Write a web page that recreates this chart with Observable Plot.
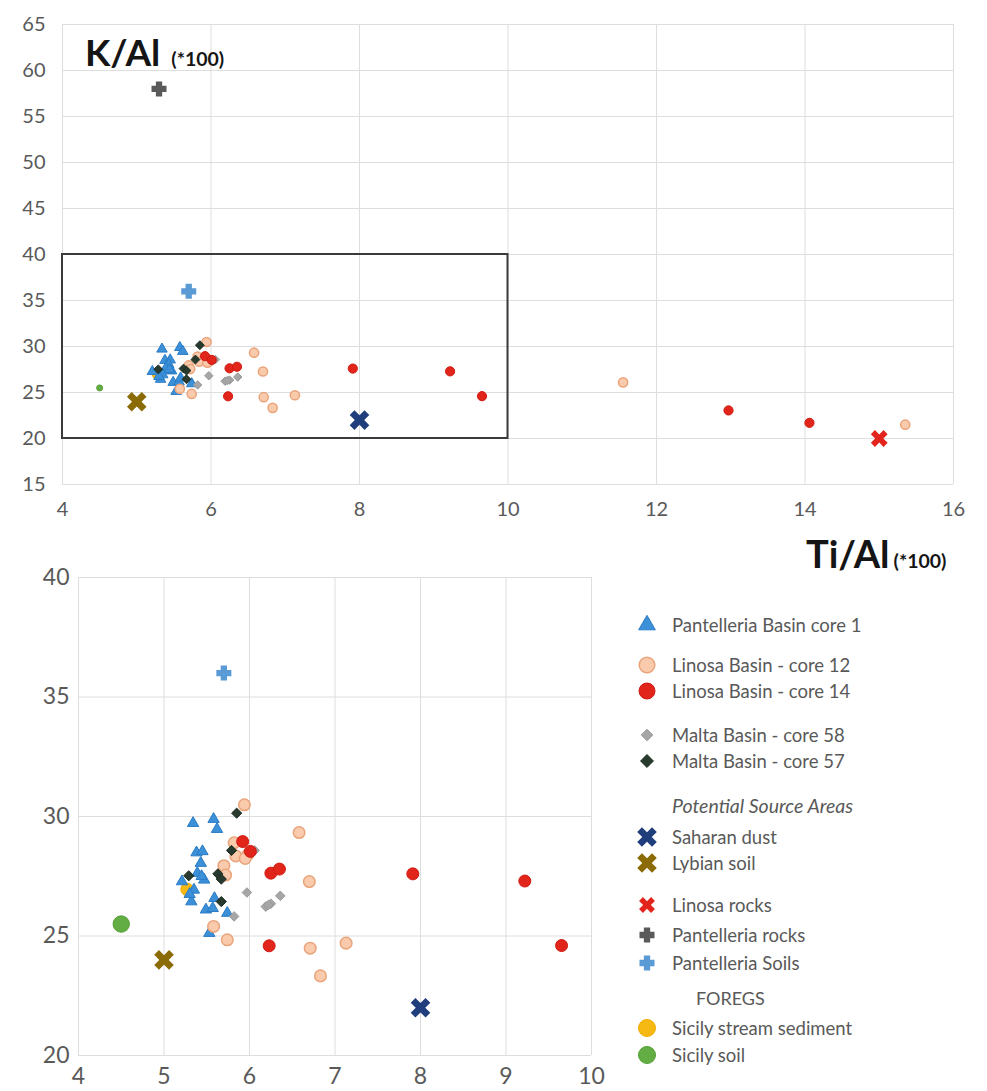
<!DOCTYPE html>
<html>
<head>
<meta charset="utf-8">
<script src="https://cdn.jsdelivr.net/npm/d3@7"></script>
<script src="https://cdn.jsdelivr.net/npm/@observablehq/plot@0.6"></script>
<style>
  body { margin: 0; background: #fff; font-family: Lato, "Open Sans", sans-serif; }
  #wrap { position: relative; width: 987px; height: 1091px; overflow: hidden; background: #fff; }
  #top, #bottom { position: absolute; left: 0; }
  #top { top: 0; }
  #bottom { top: 560px; }
  .lg { position: absolute; display: flex; align-items: center; height: 26px; white-space: nowrap;
        font-size: 18.5px; color: #595959; line-height: 1; }
  .lg svg { display: block; }
</style>
</head>
<body>
<div id="wrap"><div id="top"></div><div id="bottom"></div><div id="legend"></div></div>
<script>
// ---------- DATA (Ti/Al*100, K/Al*100) ----------
const pantelleriaCore1 = [[5.34,29.72],[5.58,29.89],[5.62,29.47],[5.38,28.49],[5.45,28.54],[5.43,28.05],
  [5.39,27.63],[5.47,27.35],[5.21,27.28],[5.35,26.93],[5.32,26.44],[5.49,26.10],[5.57,26.16],[5.59,26.58],
  [5.74,25.96],[5.53,25.12],[5.44,27.50],[5.30,26.75]];
const linosaCore12 = [[5.94,30.49],[6.58,29.33],[5.82,28.90],[5.84,28.35],[5.98,28.40],[5.95,28.25],
  [5.70,27.94],[5.72,27.55],[6.70,27.28],[5.58,25.40],[5.74,24.84],[6.71,24.49],[6.83,23.33],[7.13,24.70],
  [11.55,26.10],[15.35,21.50]];
const linosaCore14 = [[5.92,28.95],[6.01,28.54],[6.25,27.63],[6.35,27.80],[6.23,24.59],[7.91,27.60],
  [9.22,27.30],[9.65,24.60],[12.97,23.05],[14.06,21.70]];
const maltaCore58 = [[6.06,28.58],[5.97,26.82],[6.36,26.68],[6.19,26.23],[6.25,26.35],[5.82,25.82],[6.22,26.30]];
const maltaCore57 = [[5.85,30.14],[5.79,28.58],[5.29,27.52],[5.63,27.60],[5.67,27.38],[5.67,26.44]];
const saharanDust = [[8.0,22.0]];
const lybianSoil = [[5.0,24.0]];
const linosaRocks = [[15.0,20.0]];
const pantelleriaRocks = [[5.3,58.0]];
const pantelleriaSoils = [[5.7,36.0]];
const sicilyStreamSediment = [[5.27,26.95]];
const sicilySoil = [[4.5,25.5]];

const xTicksTop = [4, 6, 8, 10, 12, 14, 16];
const yTicksTop = [15, 20, 25, 30, 35, 40, 45, 50, 55, 60, 65];
const xTicksBottom = [4, 5, 6, 7, 8, 9, 10];
const yTicksBottom = [20, 25, 30, 35, 40];
const zoomBox = [{x1: 4, x2: 10, y1: 20, y2: 40}];

// ---------- SYMBOLS ----------
function crossSymbol(angle, ratio) {
  return {
    draw(ctx, size) {
      const L = Math.sqrt(size / Math.PI), w = L * ratio;
      const pts = [[-w,-L],[w,-L],[w,-w],[L,-w],[L,w],[w,w],[w,L],[-w,L],[-w,w],[-L,w],[-L,-w],[-w,-w]];
      const c = Math.cos(angle), s = Math.sin(angle);
      pts.forEach(([x, y], i) => {
        const X = x * c - y * s, Y = x * s + y * c;
        if (i === 0) ctx.moveTo(X, Y); else ctx.lineTo(X, Y);
      });
      ctx.closePath();
    }
  };
}
const symX = crossSymbol(Math.PI / 4, 0.32);
const symPlus = crossSymbol(0, 0.42);

const series = [
  {name: "Sicily stream sediment", data: sicilyStreamSediment, sym: d3.symbolCircle, fill: "#f6b913", stroke: "#f0ac00", sw: 1, rt: 4.5, rb: 6.3, rl: 8.5},
  {name: "Sicily soil", data: sicilySoil, sym: d3.symbolCircle, fill: "#63ad45", stroke: "#56a038", sw: 1, rt: 3, rb: 8.2, rl: 8.5},
  {name: "Pantelleria Basin core 1", data: pantelleriaCore1, sym: d3.symbolTriangle, fill: "#3c90d8", stroke: "#2a7cc6", sw: 1, rt: 3.9, rb: 4.2, rl: 6.2},
  {name: "Linosa Basin - core 12", data: linosaCore12, sym: d3.symbolCircle, fill: "#f9cbac", stroke: "#e9a47b", sw: 1.5, rt: 4.6, rb: 5.8, rl: 7.8},
  {name: "Malta Basin - core 58", data: maltaCore58, sym: d3.symbolDiamond2, fill: "#a6a6a6", stroke: "#9a9a9a", sw: 1, rt: 3.8, rb: 4.3, rl: 5.2},
  {name: "Linosa Basin - core 14", data: linosaCore14, sym: d3.symbolCircle, fill: "#e1251b", stroke: "#d01a12", sw: 1, rt: 4.6, rb: 6, rl: 8},
  {name: "Malta Basin - core 57", data: maltaCore57, sym: d3.symbolDiamond2, fill: "#273a2d", stroke: "#1e2e23", sw: 1, rt: 4, rb: 4.6, rl: 5.8},
  {name: "Saharan dust", data: saharanDust, sym: symX, fill: "#203e7c", stroke: "none", sw: 0, rt: 10.5, rb: 10.5, rl: 10.5},
  {name: "Lybian soil", data: lybianSoil, sym: symX, fill: "#8b6b06", stroke: "none", sw: 0, rt: 10.5, rb: 10.5, rl: 10.5},
  {name: "Linosa rocks", data: linosaRocks, sym: symX, fill: "#e2241c", stroke: "none", sw: 0, rt: 9, rb: 9, rl: 8.5},
  {name: "Pantelleria rocks", data: pantelleriaRocks, sym: symPlus, fill: "#5a5a5a", stroke: "none", sw: 0, rt: 7.5, rb: 7.5, rl: 7.5},
  {name: "Pantelleria Soils", data: pantelleriaSoils, sym: symPlus, fill: "#5b9bd5", stroke: "none", sw: 0, rt: 7.5, rb: 7.5, rl: 7.5}
];

function dotMarks(which) {
  return series.map(s => Plot.dot(s.data, {
    x: d => d[0], y: d => d[1], symbol: s.sym, r: which === "top" ? s.rt : s.rb,
    fill: s.fill, stroke: s.stroke, strokeWidth: s.sw, clip: true
  }));
}

const gridColor = "#dedede";
const tickColor = "#595959";

// ---------- TOP PANEL ----------
const topPlot = Plot.plot({
  width: 987, height: 580,
  marginTop: 24, marginBottom: 96, marginLeft: 62, marginRight: 34,
  x: {domain: [4, 16], label: null},
  y: {domain: [15, 65], label: null},
  style: {fontFamily: "Lato, sans-serif", background: "transparent", overflow: "visible"},
  marks: [
    Plot.gridX(xTicksTop, {stroke: gridColor, strokeOpacity: 1}),
    Plot.gridY(yTicksTop, {stroke: gridColor, strokeOpacity: 1}),
    Plot.axisX(xTicksTop, {tickSize: 0, tickPadding: 17, fontSize: 20, color: tickColor, label: null, tickFormat: d => String(d)}),
    Plot.axisY(yTicksTop, {tickSize: 0, tickPadding: 17, fontSize: 20, color: tickColor, label: null, tickFormat: d => String(d)}),
    Plot.rect(zoomBox, {x1: "x1", x2: "x2", y1: "y1", y2: "y2", fill: "none", stroke: "#3a3a3a", strokeWidth: 2}),
    ...dotMarks("top")
  ]
});
document.getElementById("top").appendChild(topPlot);
{
  const svg = d3.select(topPlot);
  const t1 = svg.append("text").attr("x", 85).attr("y", 66).attr("fill", "#151515").attr("text-anchor", "start")
    .style("font-family", "Lato, sans-serif").style("font-weight", "bold");
  t1.append("tspan").attr("font-size", 37).text("K/Al");
  t1.append("tspan").attr("font-size", 19.5).attr("dx", 11).text("(*100)");
  const t2 = svg.append("text").attr("x", 806).attr("y", 568).attr("fill", "#151515").attr("text-anchor", "start")
    .style("font-family", "Lato, sans-serif").style("font-weight", "bold");
  t2.append("tspan").attr("font-size", 38).text("Ti/Al");
  t2.append("tspan").attr("font-size", 19.5).attr("dx", 4).text("(*100)");
}

// ---------- BOTTOM PANEL ----------
const bottomPlot = Plot.plot({
  width: 600, height: 531,
  marginTop: 17, marginBottom: 36, marginLeft: 78, marginRight: 9,
  x: {domain: [4, 10], label: null},
  y: {domain: [20, 40], label: null},
  style: {fontFamily: "Lato, sans-serif", background: "transparent", overflow: "visible"},
  marks: [
    Plot.gridX(xTicksBottom, {stroke: gridColor, strokeOpacity: 1}),
    Plot.gridY(yTicksBottom, {stroke: gridColor, strokeOpacity: 1}),
    Plot.axisX(xTicksBottom, {tickSize: 0, tickPadding: 12, fontSize: 23, color: tickColor, label: null, tickFormat: d => String(d)}),
    Plot.axisY(yTicksBottom, {tickSize: 0, tickPadding: 9, fontSize: 23, color: tickColor, label: null, tickFormat: d => String(d)}),
    ...dotMarks("bottom")
  ]
});
document.getElementById("bottom").appendChild(bottomPlot);

// ---------- LEGEND ----------
const legendOrder = ["Pantelleria Basin core 1", "Linosa Basin - core 12", "Linosa Basin - core 14",
  "Malta Basin - core 58", "Malta Basin - core 57", "#Potential Source Areas", "Saharan dust", "Lybian soil",
  "Linosa rocks", "Pantelleria rocks", "Pantelleria Soils", "#FOREGS", "Sicily stream sediment", "Sicily soil"];
{
  const legend = document.getElementById("legend");
  const rowCenters = [625, 665, 691, 735, 761, 806, 837, 863, 905, 935, 963, 998, 1028, 1055];
  legendOrder.forEach((item, i) => {
    const y = rowCenters[i];
    const div = document.createElement("div");
    div.className = "lg";
    div.style.top = (y - 13) + "px";
    if (item.startsWith("#")) {
      const label = item.slice(1);
      if (label === "FOREGS") { div.style.left = "696px"; div.style.fontSize = "18px"; }
      else { div.style.left = "672px"; div.style.fontStyle = "italic"; div.style.fontSize = "19.5px"; }
      div.textContent = label;
    } else {
      const s = series.find(d => d.name === item);
      div.style.left = "634px";
      const p = d3.path();
      s.sym.draw(p, Math.PI * s.rl * s.rl);
      const svg = d3.create("svg").attr("width", 26).attr("height", 26).attr("viewBox", "-13 -13 26 26");
      svg.append("path").attr("d", p.toString()).attr("fill", s.fill)
        .attr("stroke", s.stroke).attr("stroke-width", s.sw);
      div.appendChild(svg.node());
      const span = document.createElement("span");
      span.style.marginLeft = "12px";
      span.textContent = item;
      div.appendChild(span);
    }
    legend.appendChild(div);
  });
}
</script>
</body>
</html>
